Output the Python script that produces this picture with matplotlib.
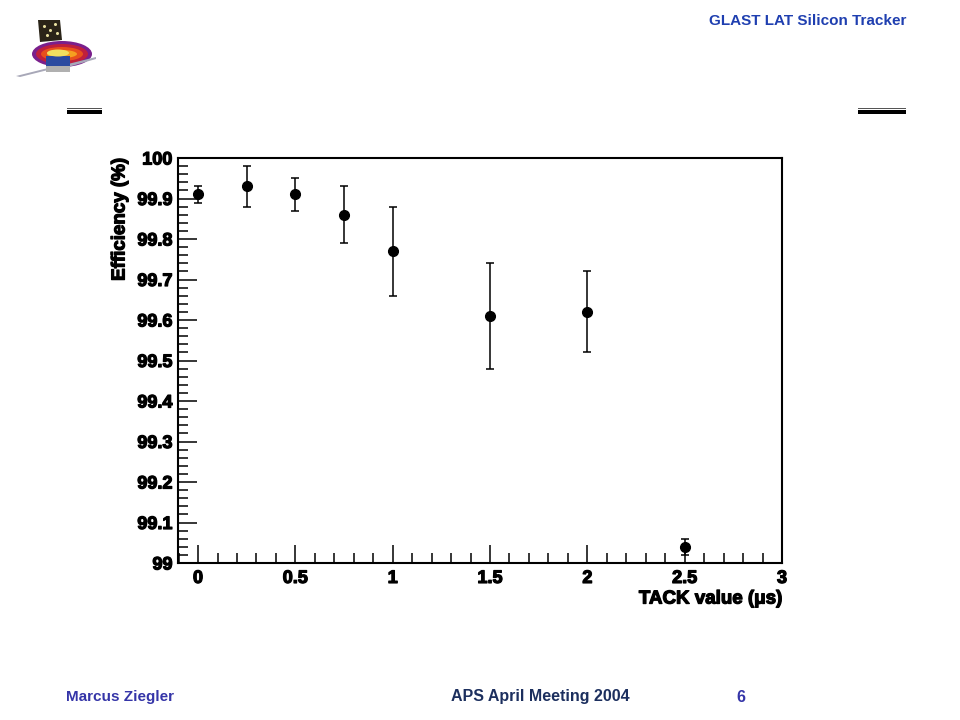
import matplotlib
matplotlib.use("Agg")
import matplotlib.pyplot as plt
from matplotlib.patches import Ellipse, Polygon, Rectangle
import matplotlib.patheffects as pe
from matplotlib.ticker import MultipleLocator

# ---- data ----
tack = [0.0, 0.25, 0.5, 0.75, 1.0, 1.5, 2.0, 2.5]
efficiency = [99.91, 99.93, 99.91, 99.86, 99.77, 99.61, 99.62, 99.04]
eff_err = [0.02, 0.05, 0.04, 0.07, 0.11, 0.13, 0.10, 0.02]
x_ticks = [0, 0.5, 1, 1.5, 2, 2.5, 3]
x_ticklabels = ["0", "0.5", "1", "1.5", "2", "2.5", "3"]
y_ticks = [99, 99.1, 99.2, 99.3, 99.4, 99.5, 99.6, 99.7, 99.8, 99.9, 100]
y_ticklabels = ["99", "99.1", "99.2", "99.3", "99.4", "99.5", "99.6", "99.7", "99.8", "99.9", "100"]

plt.rcParams['font.family'] = ['Liberation Sans', 'DejaVu Sans']

W, H = 960, 720
fig = plt.figure(figsize=(9.6, 7.2), dpi=100)
fig.patch.set_facecolor('white')

def fx(px):
    return px / W

def fy(py):
    return 1 - py / H

ax = fig.add_axes([fx(178), fy(563), fx(782) - fx(178), fy(158) - fy(563)])
ax.errorbar(tack, efficiency, yerr=eff_err, fmt='o', color='black',
            markersize=7, elinewidth=1.1, capsize=3, capthick=1.1, zorder=3)
ax.set_xlim(-0.103, 3.0)
ax.set_ylim(99.0, 100.0)

for s in ax.spines.values():
    s.set_linewidth(1.5)
    s.set_color('black')

ax.set_xticks(x_ticks)
ax.set_xticklabels(x_ticklabels)
ax.set_yticks(y_ticks)
ax.set_yticklabels(y_ticklabels)
ax.xaxis.set_minor_locator(MultipleLocator(0.1))
ax.yaxis.set_minor_locator(MultipleLocator(0.02))
ax.tick_params(axis='both', which='major', direction='in', width=1.1,
               top=False, right=False)
ax.tick_params(axis='x', which='major', length=13, pad=5)
ax.tick_params(axis='y', which='major', length=14, pad=4)
ax.tick_params(axis='x', which='minor', direction='in', length=7, width=1.1, top=False)
ax.tick_params(axis='y', which='minor', direction='in', length=7, width=1.1, right=False)

stroke = [pe.withStroke(linewidth=0.9, foreground='black')]
for lab in ax.get_xticklabels() + ax.get_yticklabels():
    lab.set_fontsize(13)
    lab.set_fontweight('bold')
    lab.set_path_effects(stroke)

ax.set_xlabel("TACK value (\u03bcs)", fontsize=13.5, fontweight='bold', path_effects=stroke)
ax.xaxis.set_label_coords(1.0, -0.068)
ax.xaxis.label.set_horizontalalignment('right')
ax.set_ylabel("Efficiency (%)", fontsize=13.5, fontweight='bold', path_effects=stroke)
ax.yaxis.set_label_coords(-0.082, 1.0)
ax.yaxis.label.set_horizontalalignment('right')

# ---- header / footer text ----
fig.text(fx(906), fy(21), "GLAST LAT Silicon Tracker", ha='right', va='center',
         fontsize=11, fontweight='bold', color='#1f3fb0')
fig.text(fx(66), fy(697), "Marcus Ziegler", ha='left', va='center',
         fontsize=11, fontweight='bold', color='#3535a8')
fig.text(fx(540), fy(697), "APS April Meeting 2004", ha='center', va='center',
         fontsize=11.5, fontweight='bold', color='#1c2f5e')
fig.text(fx(741), fy(697), "6", ha='center', va='center',
         fontsize=11.5, fontweight='bold', color='#3535a8')

# ---- decorative double rules ----
for x0, x1 in [(67, 102), (858, 906)]:
    fig.add_artist(Rectangle((fx(x0), fy(114)), fx(x1) - fx(x0), 4 / H,
                             transform=fig.transFigure, color='black', lw=0))
    fig.add_artist(Rectangle((fx(x0), fy(109)), fx(x1) - fx(x0), 1.2 / H,
                             transform=fig.transFigure, color='#555555', lw=0))

# ---- logo (approximation) ----
lax = fig.add_axes([fx(10), fy(85), fx(100) - fx(10), fy(10) - fy(85)])
lax.set_xlim(10, 100)
lax.set_ylim(85, 10)
lax.axis('off')
for w, h, c in [(60, 26, '#7a1f8c'), (52, 20, '#c0203c'), (42, 14, '#e8501c'),
                (30, 8, '#f5a020')]:
    lax.add_patch(Ellipse((62, 54), w, h, color=c, lw=0))
lax.add_patch(Polygon([[38, 20], [60, 20], [62, 40], [40, 42]], closed=True,
                      color='#2a2418', lw=0))
for px, py in [(44, 26), (50, 30), (55, 24), (47, 35), (57, 33)]:
    lax.plot(px, py, 'o', color='#e8e0a0', markersize=1.2)
lax.add_patch(Polygon([[16, 76], [48, 68], [48, 70], [20, 77]], closed=True,
                      color='#a8a8b8', lw=0))
lax.add_patch(Polygon([[68, 64], [96, 57], [96, 59], [68, 67]], closed=True,
                      color='#a8a8b8', lw=0))
lax.add_patch(Rectangle((46, 56), 24, 10, color='#2a4aa0', lw=0))
lax.add_patch(Rectangle((46, 66), 24, 6, color='#b0b0b0', lw=0))
lax.add_patch(Ellipse((58, 53), 22, 7, color='#f0e060', lw=0))

fig.savefig("out.png", dpi=100)
